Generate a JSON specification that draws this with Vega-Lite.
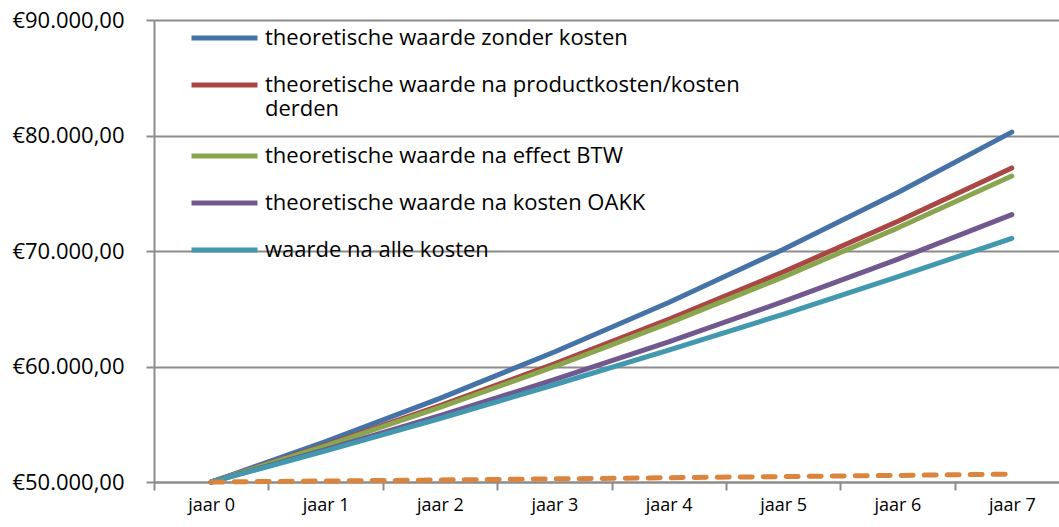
{
  "$schema": "https://vega.github.io/schema/vega-lite/v6.json",
  "autosize": "none",
  "width": 905,
  "height": 462,
  "padding": {"left": 154, "top": 20, "right": 0, "bottom": 45},
  "background": "white",
  "config": {
    "locale": {"number": {"decimal": ",", "thousands": ".", "grouping": [3], "currency": ["€", ""]}},
    "view": {"stroke": null},
    "font": "Open Sans"
  },
  "datasets": {
    "lines": [
      {"jaar": "jaar 0", "serie": "theoretische waarde zonder kosten", "waarde": 50000},
      {"jaar": "jaar 1", "serie": "theoretische waarde zonder kosten", "waarde": 53500},
      {"jaar": "jaar 2", "serie": "theoretische waarde zonder kosten", "waarde": 57245},
      {"jaar": "jaar 3", "serie": "theoretische waarde zonder kosten", "waarde": 61252},
      {"jaar": "jaar 4", "serie": "theoretische waarde zonder kosten", "waarde": 65540},
      {"jaar": "jaar 5", "serie": "theoretische waarde zonder kosten", "waarde": 70128},
      {"jaar": "jaar 6", "serie": "theoretische waarde zonder kosten", "waarde": 75037},
      {"jaar": "jaar 7", "serie": "theoretische waarde zonder kosten", "waarde": 80289},
      {"jaar": "jaar 0", "serie": "theoretische waarde na productkosten/kosten derden", "waarde": 50000},
      {"jaar": "jaar 1", "serie": "theoretische waarde na productkosten/kosten derden", "waarde": 53200},
      {"jaar": "jaar 2", "serie": "theoretische waarde na productkosten/kosten derden", "waarde": 56605},
      {"jaar": "jaar 3", "serie": "theoretische waarde na productkosten/kosten derden", "waarde": 60228},
      {"jaar": "jaar 4", "serie": "theoretische waarde na productkosten/kosten derden", "waarde": 64082},
      {"jaar": "jaar 5", "serie": "theoretische waarde na productkosten/kosten derden", "waarde": 68183},
      {"jaar": "jaar 6", "serie": "theoretische waarde na productkosten/kosten derden", "waarde": 72547},
      {"jaar": "jaar 7", "serie": "theoretische waarde na productkosten/kosten derden", "waarde": 77190},
      {"jaar": "jaar 0", "serie": "theoretische waarde na effect BTW", "waarde": 50000},
      {"jaar": "jaar 1", "serie": "theoretische waarde na effect BTW", "waarde": 53131},
      {"jaar": "jaar 2", "serie": "theoretische waarde na effect BTW", "waarde": 56458},
      {"jaar": "jaar 3", "serie": "theoretische waarde na effect BTW", "waarde": 59993},
      {"jaar": "jaar 4", "serie": "theoretische waarde na effect BTW", "waarde": 63750},
      {"jaar": "jaar 5", "serie": "theoretische waarde na effect BTW", "waarde": 67742},
      {"jaar": "jaar 6", "serie": "theoretische waarde na effect BTW", "waarde": 71984},
      {"jaar": "jaar 7", "serie": "theoretische waarde na effect BTW", "waarde": 76492},
      {"jaar": "jaar 0", "serie": "theoretische waarde na kosten OAKK", "waarde": 50000},
      {"jaar": "jaar 1", "serie": "theoretische waarde na kosten OAKK", "waarde": 52793},
      {"jaar": "jaar 2", "serie": "theoretische waarde na kosten OAKK", "waarde": 55741},
      {"jaar": "jaar 3", "serie": "theoretische waarde na kosten OAKK", "waarde": 58854},
      {"jaar": "jaar 4", "serie": "theoretische waarde na kosten OAKK", "waarde": 62141},
      {"jaar": "jaar 5", "serie": "theoretische waarde na kosten OAKK", "waarde": 65612},
      {"jaar": "jaar 6", "serie": "theoretische waarde na kosten OAKK", "waarde": 69276},
      {"jaar": "jaar 7", "serie": "theoretische waarde na kosten OAKK", "waarde": 73145},
      {"jaar": "jaar 0", "serie": "waarde na alle kosten", "waarde": 50000},
      {"jaar": "jaar 1", "serie": "waarde na alle kosten", "waarde": 52700},
      {"jaar": "jaar 2", "serie": "waarde na alle kosten", "waarde": 55500},
      {"jaar": "jaar 3", "serie": "waarde na alle kosten", "waarde": 58420},
      {"jaar": "jaar 4", "serie": "waarde na alle kosten", "waarde": 61420},
      {"jaar": "jaar 5", "serie": "waarde na alle kosten", "waarde": 64520},
      {"jaar": "jaar 6", "serie": "waarde na alle kosten", "waarde": 67750},
      {"jaar": "jaar 7", "serie": "waarde na alle kosten", "waarde": 71100}
    ],
    "kosten": [
      {"jaar": "jaar 0", "waarde": 50000},
      {"jaar": "jaar 1", "waarde": 50085},
      {"jaar": "jaar 2", "waarde": 50175},
      {"jaar": "jaar 3", "waarde": 50270},
      {"jaar": "jaar 4", "waarde": 50370},
      {"jaar": "jaar 5", "waarde": 50470},
      {"jaar": "jaar 6", "waarde": 50570},
      {"jaar": "jaar 7", "waarde": 50680}
    ]
  },
  "encoding": {
    "x": {
      "field": "jaar", "type": "ordinal",
      "scale": {"type": "band", "range": [0, 915], "paddingInner": 0, "paddingOuter": 0},
      "axis": {
        "title": null, "labelAngle": 0, "tickBand": "extent", "grid": false,
        "domainColor": "#8c8c8c", "domainWidth": 2, "tickColor": "#8c8c8c", "tickWidth": 2, "tickSize": 8,
        "labelFontSize": 18, "labelColor": "#000000", "labelPadding": 6, "labelFont": "Open Sans"
      }
    },
    "y": {
      "field": "waarde", "type": "quantitative",
      "scale": {"domain": [50000, 90000], "nice": false, "zero": false},
      "axis": {
        "title": null, "values": [50000, 60000, 70000, 80000, 90000], "format": "$,.2f",
        "grid": true, "gridColor": "#8c8c8c", "gridWidth": 2,
        "domainColor": "#8c8c8c", "domainWidth": 2, "tickColor": "#8c8c8c", "tickWidth": 2, "tickSize": 8,
        "labelFontSize": 22, "labelColor": "#000000", "labelPadding": 22, "labelFont": "Open Sans"
      }
    }
  },
  "layer": [
    {
      "data": {"name": "lines"},
      "mark": {"type": "line", "strokeWidth": 5, "strokeCap": "round", "strokeJoin": "round"},
      "encoding": {
        "color": {
          "field": "serie", "type": "nominal",
          "scale": {
            "domain": ["theoretische waarde zonder kosten", "theoretische waarde na productkosten/kosten derden", "theoretische waarde na effect BTW", "theoretische waarde na kosten OAKK", "waarde na alle kosten"],
            "range": ["#4572A7", "#AA4643", "#89A54E", "#71588F", "#4198AF"]
          },
          "legend": {
            "title": null, "orient": "none", "legendX": 35, "legendY": -17.5,
            "direction": "vertical", "symbolType": "stroke", "symbolSize": 4356, "symbolStrokeWidth": 5,
            "labelFontSize": 22, "labelColor": "#000000", "labelFont": "Open Sans", "labelOffset": 5,
            "labelLimit": 800, "rowPadding": 0, "padding": 0,
            "labelExpr": "datum.label == 'theoretische waarde na productkosten/kosten derden' ? ['theoretische waarde na productkosten/kosten', 'derden'] : datum.label"
          }
        }
      }
    },
    {
      "data": {"name": "kosten"},
      "mark": {"type": "line", "strokeWidth": 5, "strokeCap": "round", "color": "#DB843D", "strokeDash": [12, 11]}
    }
  ]
}
